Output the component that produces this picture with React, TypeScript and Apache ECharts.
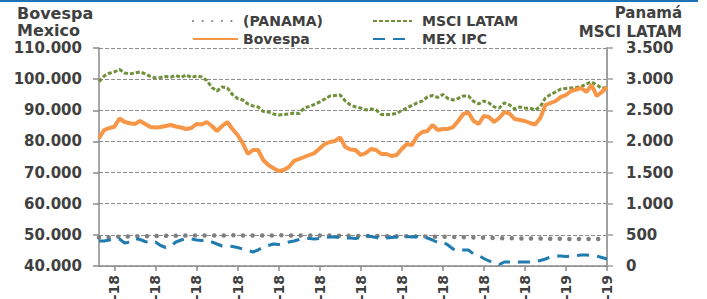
import React, { useEffect, useRef } from "react";
import * as echarts from "echarts";

const monthLabels = ["feb-18", "mar-18", "abr-18", "may-18", "jun-18", "jul-18", "ago-18", "sep-18", "oct-18", "nov-18", "dic-18", "ene-19", "feb-19"];

const bovespa = [
  81000, 83670, 84300, 84730, 87360, 86240, 85820, 85600, 86560, 85600,
  84630, 84470, 84630, 84950, 85270, 84790, 84470, 84000, 84300, 85600,
  85430, 86240, 84950, 83350, 84950, 86240, 84000, 82060, 79500, 75960,
  77240, 77240, 74040, 72430, 71370, 70500, 70830, 71790, 73720, 74360,
  75000, 75640, 76280, 77730, 79170, 79820, 80140, 81260, 78210, 77410,
  77250, 75640, 76280, 77570, 77250, 75960, 75960, 75320, 75640, 77570,
  79170, 78850, 81740, 83030, 83350, 85270, 83670, 84000, 84000, 84630,
  86560, 88810, 89290, 86560, 85600, 88170, 87840, 86240, 87520, 89450,
  88970, 87200, 86880, 86560, 85920, 85440, 87520, 91700, 92340, 92980,
  94270, 94910, 96190, 96670, 97160, 95870, 98120, 94590, 95870, 97480
];

const mexIpc = [
  48030, 48030, 48350, 48830, 48670, 47390, 47710, 48830, 48510, 47870,
  47390, 47710, 46580, 45940, 46420, 47710, 48350, 48830, 48670, 48350,
  48190, 48350, 47710, 47060, 46420, 46420, 46260, 45940, 45460, 44980,
  44500, 45140, 46100, 46580, 47060, 46900, 47220, 47710, 48030, 48510,
  48990, 48830, 48670, 48830, 49150, 49310, 49310, 49150, 48990, 48990,
  48830, 49150, 49790, 49470, 49150, 48830, 48990, 49150, 49310, 49310,
  49470, 49310, 49470, 49310, 48990, 48350, 47550, 47710, 46740, 45460,
  44820, 45140, 45140, 43850, 43370, 42410, 41610, 41280, 40480, 41280,
  41280, 41120, 41280, 41280, 41280, 41440, 41770, 42250, 42890, 43210,
  43210, 43050, 43210, 43370, 43530, 43530, 43370, 43210, 42730, 42250
];

const msciLatam = [
  2960, 3051, 3095, 3116, 3156, 3100, 3084, 3100, 3116, 3084,
  3043, 3019, 3027, 3043, 3035, 3059, 3027, 3067, 3027, 3051,
  3035, 2979, 2867, 2810, 2875, 2859, 2754, 2690, 2666, 2602,
  2570, 2554, 2481, 2473, 2441, 2425, 2433, 2441, 2457, 2449,
  2537, 2562, 2594, 2634, 2682, 2730, 2738, 2746, 2650, 2586,
  2554, 2537, 2505, 2521, 2505, 2433, 2433, 2433, 2452, 2497,
  2537, 2578, 2618, 2650, 2714, 2738, 2706, 2754, 2690, 2666,
  2690, 2730, 2730, 2642, 2602, 2650, 2618, 2554, 2537, 2618,
  2586, 2521, 2554, 2537, 2533, 2505, 2558, 2698, 2754, 2794,
  2843, 2851, 2859, 2867, 2883, 2923, 2955, 2907, 2851, 2867
];

const panama = [
  458, 460, 462, 466, 472, 475, 476, 477, 478, 478,
  480, 482, 483, 484, 485, 486, 487, 488, 488, 489,
  490, 490, 491, 491, 491, 492, 492, 492, 491, 491,
  490, 490, 490, 491, 491, 492, 492, 491, 491, 490,
  490, 490, 489, 489, 488, 488, 487, 487, 486, 485,
  484, 483, 482, 482, 481, 480, 479, 478, 478, 477,
  476, 475, 475, 474, 473, 472, 471, 470, 468, 466,
  464, 462, 460, 458, 456, 454, 452, 450, 448, 446,
  445, 444, 443, 442, 441, 440, 440, 439, 438, 437,
  436, 436, 435, 435, 434, 434, 433, 433, 432, 432
];

const FIRST_TICK = 3;
const TICK_STEP = 8;
const xCategories = bovespa.map((_, i) =>
  i >= FIRST_TICK && (i - FIRST_TICK) % TICK_STEP === 0 ? monthLabels[(i - FIRST_TICK) / TICK_STEP] : ""
);

const FONT = "DejaVu Sans";
const TEXT = "#404040";

function fmt(v: number): string {
  const s = String(Math.round(v));
  return s.replace(/\B(?=(\d{3})+(?!\d))/g, ".");
}

export default function App() {
  const ref = useRef<HTMLDivElement>(null);
  useEffect(() => {
    if (!ref.current) return;
    const chart = echarts.init(ref.current, undefined, { renderer: "svg" });
    const isTick = (i: number) => i >= FIRST_TICK && (i - FIRST_TICK) % TICK_STEP === 0;
    const legendText = { fontFamily: FONT, fontWeight: "bold" as const, fontSize: 14, color: TEXT };
    const legendBase = { itemHeight: 14, selectedMode: false, itemStyle: { opacity: 0 } };
    chart.setOption({
      animation: false,
      backgroundColor: "#ffffff",
      textStyle: { fontFamily: FONT },
      grid: { left: 99, right: 100, top: 48, bottom: 33, containLabel: false, outerBoundsMode: "none" },
      graphic: [
        { type: "rect", left: 0, top: 0, shape: { x: 0, y: 0, width: 698, height: 2 }, style: { fill: "#1f73b7" } },
        { type: "text", x: 17, y: 13, style: { text: "Bovespa", fill: TEXT, font: `bold 16px '${FONT}'`, align: "left", verticalAlign: "middle" } },
        { type: "text", x: 17, y: 30.5, style: { text: "Mexico", fill: TEXT, font: `bold 16px '${FONT}'`, align: "left", verticalAlign: "middle" } },
        { type: "text", x: 682, y: 13, style: { text: "Panamá", fill: TEXT, font: `bold 15px '${FONT}'`, align: "right", verticalAlign: "middle" } },
        { type: "text", x: 682, y: 31.5, style: { text: "MSCI LATAM", fill: TEXT, font: `bold 15px '${FONT}'`, align: "right", verticalAlign: "middle" } },
      ],
      legend: [
        { ...legendBase, data: ["(PANAMA)"], left: 187, top: 9, itemWidth: 45, textStyle: legendText },
        { ...legendBase, data: ["MSCI LATAM"], left: 367, top: 9, itemWidth: 39, textStyle: { ...legendText, padding: [0, 0, 0, 5] } },
        { ...legendBase, data: ["Bovespa"], left: 187, top: 27, itemWidth: 45, textStyle: legendText },
        { ...legendBase, data: ["MEX IPC"], left: 367, top: 27, itemWidth: 39, textStyle: { ...legendText, padding: [0, 0, 0, 5] } },
      ],
      xAxis: {
        type: "category",
        data: xCategories,
        boundaryGap: false,
        axisLine: { lineStyle: { color: "#8a8a8a", width: 1.5 } },
        axisTick: { interval: (i: number) => isTick(i), length: 5, lineStyle: { color: "#8a8a8a", width: 1.5 } },
        axisLabel: {
          interval: (i: number) => isTick(i),
          rotate: 90,
          margin: 9,
          fontFamily: FONT,
          fontWeight: "bold",
          fontSize: 14,
          color: TEXT,
          hideOverlap: false,
        },
        splitLine: { show: false },
      },
      yAxis: [
        {
          type: "value",
          position: "left",
          min: 40000,
          max: 110000,
          interval: 10000,
          axisLine: { show: true, lineStyle: { color: "#8a8a8a", width: 1.5 } },
          axisTick: { show: true, length: 6, lineStyle: { color: "#8a8a8a", width: 1.5 } },
          axisLabel: { formatter: (v: number) => fmt(v), margin: 17, fontFamily: FONT, fontWeight: "bold", fontSize: 15, color: TEXT },
          splitLine: { show: true, lineStyle: { color: "#8c8c8c", type: [4, 2], width: 1 } },
        },
        {
          type: "value",
          position: "right",
          min: 0,
          max: 3500,
          interval: 500,
          axisLine: { show: true, lineStyle: { color: "#a0a0a0", width: 2 } },
          axisTick: { show: true, length: 6, lineStyle: { color: "#a0a0a0", width: 1.5 } },
          axisLabel: { formatter: (v: number) => fmt(v), margin: 19, align: "left", fontFamily: FONT, fontWeight: "bold", fontSize: 15, color: TEXT },
          splitLine: { show: false },
        },
      ],
      series: [
        {
          name: "(PANAMA)",
          type: "line",
          yAxisIndex: 1,
          data: panama,
          symbol: "none",
          color: "#7f7f7f",
          lineStyle: { color: "#7f7f7f", width: 4.5, type: [0.1, 9.5], cap: "round" },
        },
        {
          name: "MSCI LATAM",
          type: "line",
          yAxisIndex: 1,
          data: msciLatam,
          symbol: "none",
          color: "#71903a",
          lineStyle: { color: "#71903a", width: 3, type: [4, 2] },
        },
        {
          name: "Bovespa",
          type: "line",
          yAxisIndex: 0,
          data: bovespa,
          symbol: "none",
          color: "#f79646",
          lineStyle: { color: "#f79646", width: 4 },
        },
        {
          name: "MEX IPC",
          type: "line",
          yAxisIndex: 0,
          data: mexIpc,
          symbol: "none",
          color: "#1f7bb0",
          lineStyle: { color: "#1f7bb0", width: 3, type: [12, 8] },
        },
      ],
    });
    return () => chart.dispose();
  }, []);
  return <div ref={ref} style={{ position: "fixed", left: 0, top: 0, width: 707, height: 299 }} />;
}
